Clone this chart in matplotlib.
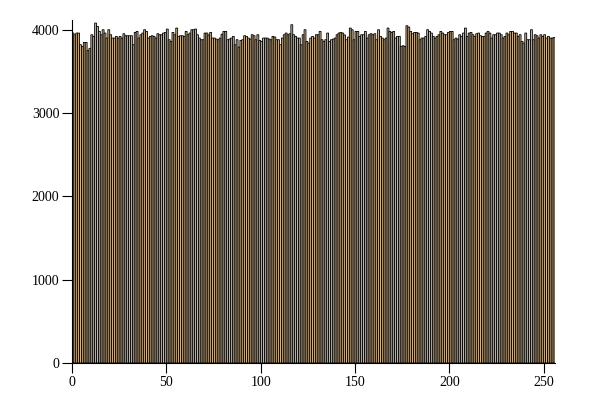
import matplotlib
matplotlib.use("Agg")
import matplotlib.pyplot as plt
import numpy as np

counts = [
    3963, 3943, 3963, 3963, 3823, 3803, 3851, 3851, 3755, 3780,
    3943, 3923, 4083, 4043, 3983, 3943, 4003, 3963, 3903, 4003,
    3943, 3903, 3903, 3923, 3903, 3923, 3903, 3955, 3931, 3931,
    3931, 3931, 3823, 3971, 3983, 3903, 3943, 3963, 4003, 3983,
    3903, 3923, 3931, 3923, 3903, 3955, 3943, 3943, 3963, 3971,
    4011, 3883, 3863, 3971, 3943, 4023, 3923, 3931, 3931, 3923,
    3983, 3943, 3963, 4003, 4003, 4011, 3943, 3903, 3883, 3883,
    3963, 3963, 3940, 3971, 3903, 3903, 3891, 3883, 3903, 3950,
    3983, 3983, 3883, 3891, 3903, 3923, 3823, 3883, 3795, 3875,
    3883, 3931, 3923, 3903, 3891, 3943, 3931, 3883, 3943, 3875,
    3863, 3903, 3903, 3903, 3891, 3883, 3923, 3915, 3883, 3883,
    3823, 3903, 3943, 3963, 3943, 3955, 4063, 3943, 3923, 3903,
    3903, 3823, 3943, 4003, 3863, 3843, 3903, 3923, 3903, 3943,
    3943, 3983, 3883, 3863, 3883, 3963, 3863, 3883, 3891, 3903,
    3943, 3963, 3971, 3963, 3940, 3883, 3915, 4023, 4003, 3883,
    3983, 3983, 3923, 3943, 3943, 3983, 3903, 3943, 3955, 3943,
    3955, 3883, 4003, 3923, 3903, 3883, 3903, 4023, 3983, 3971,
    3983, 3903, 3923, 3923, 3803, 3811, 3803, 4051, 4035, 3983,
    3955, 3970, 3971, 3963, 3883, 3903, 3903, 3923, 4003, 3983,
    3963, 3923, 3903, 3923, 3943, 3983, 3963, 3943, 3943, 3971,
    3983, 3983, 3883, 3903, 3891, 3943, 3923, 3963, 4023, 3923,
    3963, 3971, 3943, 3923, 3955, 3963, 3931, 3923, 3923, 3963,
    3983, 3963, 3903, 3943, 3943, 3963, 3963, 3943, 3903, 3923,
    3963, 3943, 3983, 3983, 3963, 3963, 3923, 3943, 3863, 3843,
    3963, 3883, 3883, 4003, 3883, 3943, 3931, 3903, 3943, 3923,
    3943, 3903, 3923, 3903, 3903, 3910,
]
bins = np.arange(len(counts))
xticks = [0, 50, 100, 150, 200, 250]
yticks = [0, 1000, 2000, 3000, 4000]

plt.rcParams['font.family'] = ['Liberation Serif', 'DejaVu Serif']
fig = plt.figure(figsize=(6, 4), dpi=100)
ax = fig.add_axes([0.12, 0.0925, 0.805, 0.8575])
ax.bar(bins, counts, width=1, align='edge', color='#d2b48c',
       edgecolor='black', linewidth=0.6, snap=False)
ax.set_xlim(0, 256)
ax.set_ylim(0, 4120)
ax.set_xticks(xticks)
ax.set_yticks(yticks)
for s in ['top', 'right']:
    ax.spines[s].set_visible(False)
for s in ['left', 'bottom']:
    ax.spines[s].set_linewidth(0.8)
ax.tick_params(direction='out', length=7, width=0.8, labelsize=10, pad=2)
fig.savefig('out.png', dpi=100)
